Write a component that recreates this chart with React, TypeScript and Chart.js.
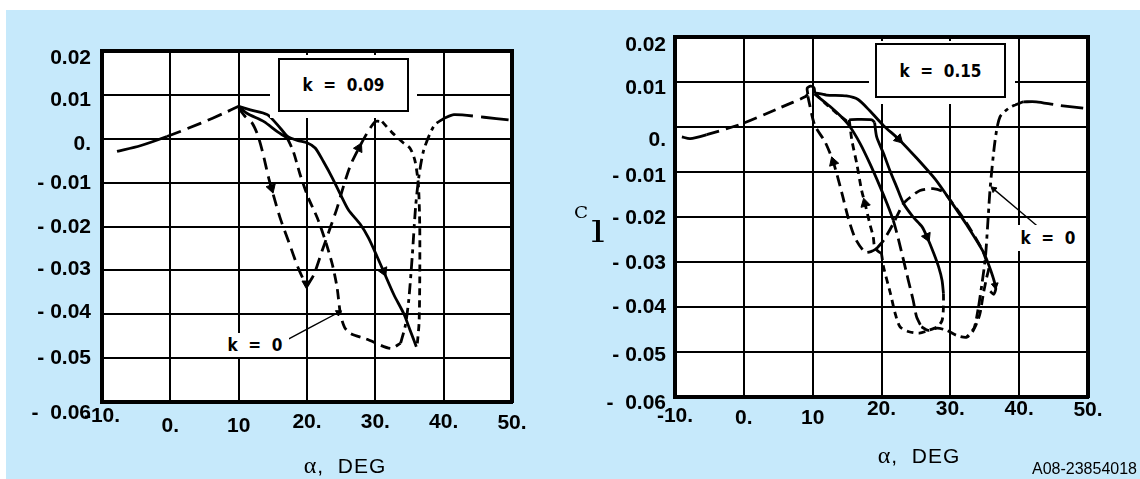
import React, { useEffect, useRef } from 'react';
import { Chart, registerables } from 'chart.js';

Chart.register(...registerables);

type Pt = [number, number];

// ---------- axes ----------
const xTickValues = [-10, 0, 10, 20, 30, 40, 50];
const xTickLabels = ['-10.', '0.', '10', '20.', '30.', '40.', '50.'];
const yTickValues = [0.02, 0.01, 0, -0.01, -0.02, -0.03, -0.04, -0.05, -0.06];
const yTickLabels = ['0.02', '0.01', '0.', '- 0.01', '- 0.02', '- 0.03', '- 0.04', '- 0.05', '-  0.06'];

// ---------- left panel, k = 0.09 ----------
const leftStaticRise: Pt[] = [[-7.8, -0.0029], [-4.4, -0.0016], [-0.5, 0.0005], [4.4, 0.0035], [7.8, 0.0058], [10, 0.0074]];
const leftStaticLens: Pt[] = [[10, 0.0074], [11.2, 0.0058], [13.7, 0.0039], [15.6, 0.0017], [17.1, 0.0002]];
const leftStaticDrop: Pt[] = [[17.1, 0.0002], [18.0, -0.0029], [19.0, -0.0082], [20.2, -0.0135], [21.5, -0.018], [22.7, -0.0233], [23.7, -0.0286], [24.4, -0.0339], [24.9, -0.04], [25.5, -0.043], [26.4, -0.0444], [28.8, -0.0457], [32.2, -0.0478], [33.7, -0.0466]];
const leftStaticRecover: Pt[] = [[33.7, -0.0466], [34.4, -0.0425], [34.9, -0.0366], [35.4, -0.0268], [35.9, -0.0154], [36.4, -0.0083], [37.1, -0.0025], [38.6, 0.003], [40.0, 0.0046]];
const leftStaticTail: Pt[] = [[40.0, 0.0046], [41.5, 0.0055], [45.9, 0.0049], [49.5, 0.0043]];
const leftSolidLoop: Pt[] = [[10, 0.0074], [11.7, 0.0066], [14.2, 0.0055], [16.1, 0.0024], [17.1, 0.0006], [18.6, -0.0004], [20, -0.0009], [21.2, -0.0021], [22.4, -0.0052], [23.7, -0.0089], [24.9, -0.0127], [26.1, -0.0163], [27.8, -0.0195], [29.0, -0.0226], [30.3, -0.027], [31.2, -0.0302], [32.7, -0.0355], [34.2, -0.04], [35.1, -0.0437], [36.0, -0.0474]];
const leftDashDown: Pt[] = [[10, 0.007], [11.0, 0.005], [12.0, 0.0035], [12.8, 0.0008], [13.5, -0.003], [14.4, -0.009], [15.2, -0.0135], [16.1, -0.0182], [17.4, -0.0238], [18.6, -0.029], [19.6, -0.0325], [20.0, -0.0336]];
const leftDashUp: Pt[] = [[20.0, -0.0336], [21.0, -0.031], [22.2, -0.0256], [23.4, -0.0203], [24.4, -0.0158], [25.4, -0.0105], [26.4, -0.0059], [27.6, -0.0021], [28.8, 0.0013], [30.0, 0.0039], [31.0, 0.0039]];
const leftShortDash: Pt[] = [[31.0, 0.0039], [32.4, 0.0015], [34.0, -0.0008], [35.1, -0.0022], [35.8, -0.005], [36.3, -0.0105], [36.5, -0.02], [36.5, -0.032], [36.4, -0.042], [36.1, -0.0474]];
const leftPointer: Pt[] = [[17.2, -0.0457], [24.6, -0.0396]];
const leftArrowPts: Pt[] = [[14.8, -0.0112], [27.6, -0.0021], [31.2, -0.0302], [19.9, -0.033], [24.6, -0.0396]];
const leftArrowRot = [163, 27, 156, 180, 62];
const leftArrowSize = [5.5, 5.5, 5.5, 5, 3.5];

// ---------- right panel, k = 0.15 ----------
const rightStaticRise: Pt[] = [[-9.0, -0.0022], [-7.8, -0.0026], [-5.4, -0.0017], [-0.3, 0.0007], [5.3, 0.0043], [8.9, 0.0067], [9.3, 0.0073]];
const rightPeakCurl: Pt[] = [[9.3, 0.0073], [9.2, 0.0086], [9.7, 0.0091], [10.2, 0.0087], [10.3, 0.0075]];
const rightSolidA: Pt[] = [[10.3, 0.0076], [12.0, 0.0071], [14.9, 0.0069], [16.6, 0.0061], [18.3, 0.0036], [20.3, 0.0003], [22.5, -0.0027], [25.1, -0.0069], [27.8, -0.0116], [30.2, -0.0168], [32.4, -0.0218], [34.8, -0.0278], [35.9, -0.032], [36.6, -0.0358], [36.3, -0.0372], [35.8, -0.0365]];
const rightStaticDrop: Pt[] = [[10.3, 0.0073], [12.5, 0.0046], [14.2, 0.0022], [15.4, 0.0001], [16.9, -0.0037], [18.3, -0.0081], [19.8, -0.0133], [20.8, -0.017], [21.7, -0.0207], [22.5, -0.0252], [23.2, -0.0296], [23.9, -0.0341], [24.6, -0.0385], [25.1, -0.0422], [25.8, -0.0444]];
const rightStaticBottom: Pt[] = [[25.8, -0.0444], [26.8, -0.0452], [28.1, -0.0447], [29.5, -0.0452], [30.9, -0.0463], [32.4, -0.0467], [33.4, -0.045], [34.1, -0.04]];
const rightStaticRecover: Pt[] = [[34.1, -0.04], [34.6, -0.0348], [35.1, -0.0289], [35.5, -0.02], [35.8, -0.0133], [36.5, -0.003], [37.2, 0.0022], [38.7, 0.0044], [40.6, 0.0056]];
const rightStaticTail: Pt[] = [[40.6, 0.0056], [42.5, 0.0056], [45.4, 0.0049], [49.3, 0.0042]];
const rightLoopLDown: Pt[] = [[9.3, 0.0068], [10.3, 0.0004], [11.8, -0.0033], [13.0, -0.0078], [14.2, -0.0144], [15.2, -0.0204], [16.2, -0.0248], [17.6, -0.0278], [18.6, -0.0276], [19.3, -0.027]];
const rightLoopLUp: Pt[] = [[19.3, -0.027], [20.3, -0.0252], [21.7, -0.0215], [23.2, -0.017], [24.2, -0.0156], [25.6, -0.0141], [27.5, -0.0137], [29.0, -0.0144], [30.0, -0.0163], [32.3, -0.0212], [34.7, -0.0275], [35.6, -0.0315]];
const rightLoopLBack: Pt[] = [[35.6, -0.0315], [35.3, -0.0333], [34.8, -0.037], [34.3, -0.0415], [33.6, -0.0444], [32.4, -0.0467]];
const rightLoopMTop: Pt[] = [[10.3, 0.0075], [11.8, 0.0053], [13.3, 0.0033], [15.0, 0.0013], [15.3, 0.0016]];
const rightLoopMCap: Pt[] = [[15.3, 0.0016], [16.5, 0.0017], [18.6, 0.0016], [19.0, 0.001]];
const rightLoopMLeft: Pt[] = [[15.3, 0.0016], [15.4, 0.0005], [15.7, -0.003], [16.4, -0.0081], [17.1, -0.014], [17.6, -0.017], [18.3, -0.0215], [18.8, -0.0244], [19.0, -0.0267], [19.5, -0.0276], [20.0, -0.0281]];
const rightInnerSolid: Pt[] = [[19.0, 0.001], [19.3, -0.0022], [20.3, -0.0059], [21.2, -0.0096], [22.2, -0.0133], [23.2, -0.017], [24.6, -0.02], [25.9, -0.0222], [26.6, -0.0244], [27.6, -0.0281], [28.3, -0.0311], [28.8, -0.0341], [29.0, -0.037]];
const rightLoopBottom: Pt[] = [[29.0, -0.037], [29.0, -0.04], [28.8, -0.043], [28.1, -0.0444], [26.8, -0.0452], [25.5, -0.0458], [24.0, -0.0455], [22.7, -0.0444], [22.0, -0.0415], [21.3, -0.037], [20.3, -0.0311], [20.0, -0.0281]];
const rightPointer: Pt[] = [[43.4, -0.023], [36.3, -0.0138]];
const rightArrowPts: Pt[] = [[22.5, -0.0027], [26.6, -0.0244], [13.0, -0.0078], [17.6, -0.017], [36.5, -0.0352], [36.3, -0.0138]];
const rightArrowRot = [135, 156, 342, 346, 170, 311];
const rightArrowSize = [5.5, 5.5, 5.5, 5.5, 4, 3.5];

// ---------- styles ----------
interface LineSpec { pts: Pt[]; dash: number[]; solidUntil?: number; width?: number }
interface PanelSpec {
  lines: LineSpec[];
  arrows: Pt[];
  arrowRot: number[];
  arrowSize: number[];
  area: { left: number; top: number; right: number; bottom: number };
  yPad: number;
  yShift: number[];
  xLine: number[];
}

const W = 570;
const H = 479;
const BLUE = '#C6E9FB';
const CURVE_W = 2.8;

const leftPanel: PanelSpec = {
  lines: [
    { pts: leftStaticRise, dash: [15, 7], solidUntil: 2 },
    { pts: leftStaticLens, dash: [] },
    { pts: leftStaticDrop, dash: [10, 6] },
    { pts: leftStaticRecover, dash: [11, 5, 4, 5] },
    { pts: leftStaticTail, dash: [30, 8] },
    { pts: leftSolidLoop, dash: [] },
    { pts: leftDashDown, dash: [12, 7] },
    { pts: leftDashUp, dash: [12, 7] },
    { pts: leftShortDash, dash: [7, 5] },
    { pts: leftPointer, dash: [], width: 1.4 },
  ],
  arrows: leftArrowPts,
  arrowRot: leftArrowRot,
  arrowSize: leftArrowSize,
  area: { left: 102, top: 51, right: 512, bottom: 402 },
  yPad: 11,
  yShift: [7, 5, 5, 1, 1, -1, -2, 0, 11],
  xLine: [24, 45, 45, 37, 37, 37, 38],
};

const rightPanel: PanelSpec = {
  lines: [
    { pts: rightStaticRise, dash: [13, 7], solidUntil: 2 },
    { pts: rightPeakCurl, dash: [] },
    { pts: rightSolidA, dash: [] },
    { pts: rightStaticDrop, dash: [13, 6], solidUntil: 8 },
    { pts: rightStaticBottom, dash: [9, 5] },
    { pts: rightStaticRecover, dash: [12, 5, 4, 5] },
    { pts: rightStaticTail, dash: [30, 8] },
    { pts: rightLoopLDown, dash: [11, 6] },
    { pts: rightLoopLUp, dash: [11, 6] },
    { pts: rightLoopLBack, dash: [9, 5] },
    { pts: rightLoopMTop, dash: [7, 5] },
    { pts: rightLoopMCap, dash: [] },
    { pts: rightLoopMLeft, dash: [7, 5] },
    { pts: rightInnerSolid, dash: [] },
    { pts: rightLoopBottom, dash: [7, 5] },
    { pts: rightPointer, dash: [], width: 1.4 },
  ],
  arrows: rightArrowPts,
  arrowRot: rightArrowRot,
  arrowSize: rightArrowSize,
  area: { left: 105, top: 37, right: 518, bottom: 397 },
  yPad: 9,
  yShift: [8, 6, 13, 4, 1, 1, 0, 3, 6],
  xLine: [35, 38, 38, 21, 21, 21, 22],
};

const plotBg = {
  id: 'plotBg',
  beforeDraw(chart: any) {
    const { ctx, chartArea: a } = chart;
    ctx.save();
    ctx.fillStyle = '#fff';
    ctx.fillRect(a.left, a.top, a.right - a.left, a.bottom - a.top);
    ctx.restore();
  },
};

function tickFont(lh: number) {
  return { family: "'Liberation Sans', Arial, sans-serif", size: 21, weight: 'bold' as const, lineHeight: `${Math.max(0, lh)}px` };
}

function buildChart(canvas: HTMLCanvasElement, p: PanelSpec) {
  const datasets: any[] = p.lines.map((l) => {
    const ds: any = {
      data: l.pts.map(([x, y]) => ({ x, y })),
      showLine: true,
      borderColor: '#000',
      backgroundColor: '#000',
      borderWidth: l.width ?? CURVE_W,
      borderDash: l.dash,
      borderCapStyle: 'butt',
      borderJoinStyle: 'round',
      pointRadius: 0,
      pointHoverRadius: 0,
      tension: 0.25,
    };
    if (l.solidUntil !== undefined) {
      const n = l.solidUntil;
      ds.segment = { borderDash: (c: any) => (c.p0DataIndex < n ? [] : l.dash) };
    }
    return ds;
  });
  datasets.push({
    data: p.arrows.map(([x, y]) => ({ x, y })),
    showLine: false,
    pointStyle: 'triangle',
    pointRadius: p.arrowSize,
    pointHoverRadius: p.arrowSize,
    pointRotation: p.arrowRot,
    backgroundColor: '#000',
    borderColor: '#000',
    borderWidth: 1,
  });

  const yAsc = [...yTickValues].sort((a, b) => a - b);
  const grid = { color: '#000', lineWidth: 2, drawTicks: false };
  const border = { display: true, color: '#000', width: 4 };
  const hidden = { display: false };

  return new Chart(canvas, {
    type: 'scatter',
    data: { datasets },
    options: {
      animation: false,
      responsive: false,
      maintainAspectRatio: false,
      devicePixelRatio: 1,
      events: [],
      layout: { padding: 0 },
      plugins: { legend: { display: false }, tooltip: { enabled: false }, title: { display: false } },
      scales: {
        x: {
          type: 'linear',
          position: 'bottom',
          min: -10,
          max: 50,
          afterBuildTicks: (s: any) => {
            s.ticks = xTickValues.map((v) => ({ value: v }));
          },
          ticks: {
            autoSkip: false,
            maxRotation: 0,
            minRotation: 0,
            padding: 2,
            color: '#000',
            font: (c: any) => tickFont(c.tick ? p.xLine[xTickValues.indexOf(c.tick.value)] : 24),
            callback: (v: any) => xTickLabels[xTickValues.indexOf(v)],
          },
          grid,
          border,
          afterFit: (s: any) => {
            s.height = H - p.area.bottom;
          },
        },
        y: {
          type: 'linear',
          position: 'left',
          min: -0.06,
          max: 0.02,
          afterBuildTicks: (s: any) => {
            s.ticks = yAsc.map((v) => ({ value: v }));
          },
          ticks: {
            autoSkip: false,
            padding: p.yPad,
            labelOffset: -4,
            color: '#000',
            font: (c: any) => tickFont(c.tick ? 2 * (p.yShift[yTickValues.indexOf(c.tick.value)] + 4) : 8),
            callback: (v: any) => ['', yTickLabels[yTickValues.indexOf(v)]],
          },
          grid,
          border,
          afterFit: (s: any) => {
            s.width = p.area.left;
          },
        },
        x2: {
          type: 'linear',
          position: 'top',
          min: -10,
          max: 50,
          ticks: hidden,
          grid: { display: false, drawTicks: false },
          border,
          afterFit: (s: any) => {
            s.height = p.area.top;
          },
        },
        y2: {
          type: 'linear',
          position: 'right',
          min: -0.06,
          max: 0.02,
          ticks: hidden,
          grid: { display: false, drawTicks: false },
          border,
          afterFit: (s: any) => {
            s.width = W - p.area.right;
          },
        },
      },
    } as any,
    plugins: [plotBg],
  });
}

const kFont: React.CSSProperties = {
  fontFamily: "'DejaVu Sans Condensed', 'DejaVu Sans', sans-serif",
  fontStretch: 'condensed',
  fontWeight: 'bold',
  fontSize: 17,
  whiteSpace: 'pre',
  color: '#000',
};

export default function App() {
  const leftRef = useRef<HTMLCanvasElement>(null);
  const rightRef = useRef<HTMLCanvasElement>(null);

  useEffect(() => {
    const a = buildChart(leftRef.current!, leftPanel);
    const b = buildChart(rightRef.current!, rightPanel);
    return () => {
      a.destroy();
      b.destroy();
    };
  }, []);

  const abs = (l: number, t: number, w: number, h: number): React.CSSProperties => ({
    position: 'absolute',
    left: l,
    top: t,
    width: w,
    height: h,
  });

  const axisTitle: React.CSSProperties = {
    fontFamily: "'Liberation Sans', Arial, sans-serif",
    fontSize: 21,
    letterSpacing: 1,
    lineHeight: '24px',
    textAlign: 'center',
    whiteSpace: 'pre',
    color: '#000',
  };
  const alpha: React.CSSProperties = { fontFamily: "'Liberation Serif', 'DejaVu Serif', serif", fontSize: 24 };

  return (
    <div style={{ position: 'fixed', left: 0, top: 0, width: 1140, height: 479, background: '#fff', overflow: 'hidden' }}>
      <div style={{ position: 'absolute', left: 6, top: 10, right: 0, bottom: 0, background: BLUE }} />
      <canvas ref={leftRef} width={W} height={H} style={{ position: 'absolute', left: 0, top: 0, width: W, height: H }} />
      <canvas ref={rightRef} width={W} height={H} style={{ position: 'absolute', left: 570, top: 0, width: W, height: H }} />

      {/* k = 0.09 box */}
      <div style={{ ...abs(270, 55, 147, 63), background: '#fff' }} />
      <div
        style={{
          ...abs(278, 58, 131, 54),
          boxSizing: 'border-box',
          border: '2px solid #000',
          background: '#fff',
          display: 'flex',
          alignItems: 'center',
          justifyContent: 'center',
          ...kFont,
        }}
      >
        {'k  =  0.09'}
      </div>
      {/* k = 0 (left) */}
      <div style={{ ...abs(221, 333, 68, 24), background: '#fff', display: 'flex', alignItems: 'center', justifyContent: 'center', ...kFont }}>
        {'k  =  0'}
      </div>

      {/* k = 0.15 box */}
      <div style={{ ...abs(869, 41, 146, 63), background: '#fff' }} />
      <div
        style={{
          ...abs(875, 43, 131, 55),
          boxSizing: 'border-box',
          border: '2px solid #000',
          background: '#fff',
          display: 'flex',
          alignItems: 'center',
          justifyContent: 'center',
          ...kFont,
        }}
      >
        {'k  =  0.15'}
      </div>
      {/* k = 0 (right) */}
      <div style={{ ...abs(1016, 225, 64, 26), background: '#fff', display: 'flex', alignItems: 'center', justifyContent: 'center', ...kFont }}>
        {'k  =  0'}
      </div>

      {/* axis titles */}
      <div style={{ ...abs(245, 453, 200, 24), ...axisTitle }}>
        <span style={alpha}>α</span>
        {',  DEG'}
      </div>
      <div style={{ ...abs(819, 443, 200, 24), ...axisTitle }}>
        <span style={alpha}>α</span>
        {',  DEG'}
      </div>

      {/* C_l */}
      <div style={{ position: 'absolute', left: 574, top: 205, fontFamily: "'DejaVu Serif', 'Liberation Serif', serif", fontSize: 16, lineHeight: 1, color: '#000', transform: 'scaleX(1.15)', transformOrigin: 'left top' }}>
        C
      </div>
      <div style={{ position: 'absolute', left: 591, top: 217, fontFamily: "'DejaVu Serif', 'Liberation Serif', serif", fontSize: 30, lineHeight: 1, color: '#000', transform: 'scaleX(1.45)', transformOrigin: 'left top' }}>
        l
      </div>

      {/* figure id */}
      <div style={{ position: 'absolute', left: 1032, top: 460, fontFamily: "'Liberation Sans', Arial, sans-serif", fontSize: 16, lineHeight: '18px', color: '#000', whiteSpace: 'pre' }}>
        A08-23854018
      </div>
    </div>
  );
}
